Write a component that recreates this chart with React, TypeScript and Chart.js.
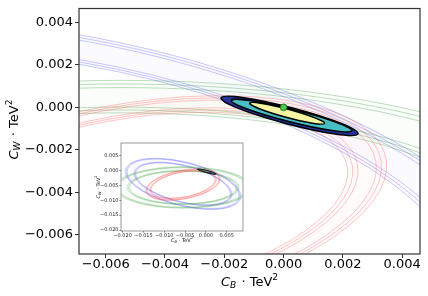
import React, { useEffect, useRef } from 'react';
import { Chart, registerables } from 'chart.js';

Chart.register(...registerables);

// ---------- data ----------
const mainXRange = [-0.0069, 0.0046];
const mainYRange = [-0.0069, 0.00465];
const mainXTicks = [-0.006, -0.004, -0.002, 0.0, 0.002, 0.004];
const mainYTicks = [-0.006, -0.004, -0.002, 0.0, 0.002, 0.004];

const insetXRange = [-0.0204, 0.0089];
const insetYRange = [-0.0203, 0.0092];
const insetXTicks = [-0.02, -0.015, -0.01, -0.005, 0.0, 0.005];
const insetYTicks = [-0.02, -0.015, -0.01, -0.005, 0.0, 0.005];

// constraint ellipses (blue, green, red): centre, semi-axes, rotation (deg)
const bandCenterX = [-0.0055, -0.0055, -0.0055];
const bandCenterY = [-0.0045, -0.0057, -0.00475];
const bandSemiMajor = [0.0145, 0.016, 0.0091];
const bandSemiMinor = [0.007, 0.0068, 0.00466];
const bandAngleDeg = [-22, 0, 17.1];
const bandOuterScales = [
  [0.983, 1.0, 1.017],
  [0.975, 1.0, 1.025],
  [0.98, 1.0, 1.02],
];
const bandInnerScales = [
  [0.83, 0.845, 0.86],
  [0.8, 0.82, 0.84],
  [0.87, 0.89, 0.91],
];

// best-fit confidence contours (outer to inner)
const contourCenterX = [0.0002, 0.00027, 0.00012];
const contourCenterY = [-0.0004, -0.00039, -0.00028];
const contourSemiMajor = [0.00246, 0.00215, 0.00135];
const contourSemiMinor = [0.00038, 0.00029, 0.00019];
const contourAngleDeg = [-20.3, -19.5, -20.8];

const bestFitX = [0.0];
const bestFitY = [0.0];

// ---------- styles ----------
const FONT = "'DejaVu Sans', sans-serif";
const BAND_LINE = ['rgba(70,70,255,0.30)', 'rgba(40,150,40,0.30)', 'rgba(255,70,70,0.30)'];
const BAND_FILL = ['rgba(70,70,255,0.022)', 'rgba(40,150,40,0.022)', 'rgba(255,70,70,0.022)'];
const CONTOUR_FILL = ['#23339a', '#46bec4', '#f3f5a2'];

function fmtTick(v: number): string {
  if (Math.abs(v) < 1e-12) return '0.000';
  return (v < 0 ? '\u2212' : '') + Math.abs(v).toFixed(3);
}

function ellipsePath(ctx: CanvasRenderingContext2D, xs: any, ys: any, cx: number, cy: number,
  a: number, b: number, angDeg: number, k: number) {
  const th = (angDeg * Math.PI) / 180;
  const ux = a * k * Math.cos(th), uy = a * k * Math.sin(th);
  const vx = -b * k * Math.sin(th), vy = b * k * Math.cos(th);
  const px0 = xs.getPixelForValue(cx), py0 = ys.getPixelForValue(cy);
  const pux = xs.getPixelForValue(cx + ux) - px0, puy = ys.getPixelForValue(cy + uy) - py0;
  const pvx = xs.getPixelForValue(cx + vx) - px0, pvy = ys.getPixelForValue(cy + vy) - py0;
  ctx.save();
  ctx.transform(pux, puy, pvx, pvy, px0, py0);
  ctx.moveTo(1, 0);
  ctx.arc(0, 0, 1, 0, Math.PI * 2);
  ctx.restore();
}

function makeEllipsePlugin(lineWidth: number, contourLine: number) {
  return {
    id: 'ellipses',
    beforeDatasetsDraw(chart: any) {
      const { ctx, chartArea: area } = chart;
      const xs = chart.scales.x, ys = chart.scales.y;
      ctx.save();
      ctx.beginPath();
      ctx.rect(area.left, area.top, area.right - area.left, area.bottom - area.top);
      ctx.clip();
      for (let i = 0; i < bandCenterX.length; i++) {
        const outer = bandOuterScales[i], inner = bandInnerScales[i];
        ctx.beginPath();
        ellipsePath(ctx, xs, ys, bandCenterX[i], bandCenterY[i], bandSemiMajor[i], bandSemiMinor[i], bandAngleDeg[i], outer[outer.length - 1]);
        ellipsePath(ctx, xs, ys, bandCenterX[i], bandCenterY[i], bandSemiMajor[i], bandSemiMinor[i], bandAngleDeg[i], inner[0]);
        ctx.fillStyle = BAND_FILL[i];
        ctx.fill('evenodd');
        ctx.strokeStyle = BAND_LINE[i];
        ctx.lineWidth = lineWidth;
        for (const k of [...outer, ...inner]) {
          ctx.beginPath();
          ellipsePath(ctx, xs, ys, bandCenterX[i], bandCenterY[i], bandSemiMajor[i], bandSemiMinor[i], bandAngleDeg[i], k);
          ctx.stroke();
        }
      }
      for (let j = 0; j < contourCenterX.length; j++) {
        ctx.beginPath();
        ellipsePath(ctx, xs, ys, contourCenterX[j], contourCenterY[j], contourSemiMajor[j], contourSemiMinor[j], contourAngleDeg[j], 1);
        ctx.fillStyle = CONTOUR_FILL[j];
        ctx.fill();
        ctx.strokeStyle = '#000';
        ctx.lineWidth = contourLine;
        ctx.stroke();
      }
      ctx.restore();
    },
  };
}

function makeFramePlugin(color: string, width: number) {
  return {
    id: 'frame',
    afterDraw(chart: any) {
      const { ctx, chartArea: a } = chart;
      ctx.save();
      ctx.strokeStyle = color;
      ctx.lineWidth = width;
      ctx.strokeRect(a.left, a.top, a.right - a.left, a.bottom - a.top);
      ctx.restore();
    },
  };
}

function drawAxisTitle(ctx: CanvasRenderingContext2D, tx: number, ty: number, size: number, sub: string, rotate: boolean) {
  const parts = [
    { t: 'C', f: `italic ${size}px ${FONT}`, dy: 0 },
    { t: sub, f: `italic ${size * 0.7}px ${FONT}`, dy: size * 0.2 },
    { t: ' \u00b7 TeV', f: `${size}px ${FONT}`, dy: 0 },
    { t: '2', f: `${size * 0.7}px ${FONT}`, dy: -size * 0.42 },
  ];
  ctx.save();
  ctx.translate(tx, ty);
  if (rotate) ctx.rotate(-Math.PI / 2);
  ctx.fillStyle = '#000';
  ctx.textBaseline = 'alphabetic';
  ctx.textAlign = 'left';
  const widths = parts.map((p) => { ctx.font = p.f; return ctx.measureText(p.t).width; });
  const total = widths.reduce((s, w) => s + w, 0) + size * 0.08;
  let x = -total / 2;
  parts.forEach((p, i) => {
    ctx.font = p.f;
    ctx.fillText(p.t, x, p.dy);
    x += widths[i] + (i === 1 ? size * 0.08 : 0);
  });
  ctx.restore();
}

function makeTitlePlugin(size: number, xTitle: [number, number], yTitle: [number, number]) {
  return {
    id: 'mathTitles',
    afterDraw(chart: any) {
      const ctx = chart.ctx;
      drawAxisTitle(ctx, xTitle[0], xTitle[1], size, 'B', false);
      drawAxisTitle(ctx, yTitle[0], yTitle[1], size, 'W', true);
    },
  };
}

const whiteBg = {
  id: 'whiteBg',
  beforeDraw(chart: any) {
    const ctx = chart.ctx;
    ctx.save();
    ctx.fillStyle = '#fff';
    ctx.fillRect(0, 0, chart.width, chart.height);
    ctx.restore();
  },
};

function axis(range: number[], ticks: number[], fontSize: number, tickLen: number, pad: number, fitSize: number, horizontal: boolean, tickColor: string, labelColor: string) {
  return {
    type: 'linear',
    min: range[0],
    max: range[1],
    afterBuildTicks: (s: any) => { s.ticks = ticks.map((value) => ({ value })); },
    afterFit: (s: any) => { if (horizontal) s.height = fitSize; else s.width = fitSize; },
    ticks: {
      autoSkip: false,
      maxRotation: 0,
      minRotation: 0,
      padding: pad,
      color: labelColor,
      font: { family: FONT, size: fontSize, lineHeight: 1 },
      callback: (v: any) => fmtTick(Number(v)),
    },
    grid: { drawOnChartArea: false, drawTicks: true, tickLength: tickLen, color: tickColor, lineWidth: 1 },
    border: { display: false },
  };
}

export default function App() {
  const mainRef = useRef<HTMLCanvasElement>(null);
  const insetRef = useRef<HTMLCanvasElement>(null);

  useEffect(() => {
    const markerData = bestFitX.map((x, i) => ({ x, y: bestFitY[i] }));
    const main = new Chart(mainRef.current as HTMLCanvasElement, {
      type: 'scatter',
      data: {
        datasets: [
          { data: markerData, pointStyle: 'circle', pointRadius: 3.4, backgroundColor: '#52c452', borderColor: '#1a5e1a', borderWidth: 0.8 },
          { data: markerData, pointStyle: 'crossRot', pointRadius: 3.4, backgroundColor: '#0d4d0d', borderColor: '#0d4d0d', borderWidth: 1.2 },
        ],
      },
      options: {
        responsive: false,
        animation: false,
        events: [],
        layout: { padding: { left: 0, right: 8, top: 5, bottom: 0 } },
        plugins: { legend: { display: false }, tooltip: { enabled: false } },
        scales: {
          x: axis(mainXRange, mainXTicks, 13, 4, 0, 42, true, '#333', '#000'),
          y: axis(mainYRange, mainYTicks, 13, 4, 2, 79, false, '#333', '#000'),
        },
      } as any,
      plugins: [makeEllipsePlugin(1, 1.5), makeFramePlugin('#333', 1.2), makeTitlePlugin(13, [249.5, 285.5], [17.5, 129.5])],
    } as any);

    const inset = new Chart(insetRef.current as HTMLCanvasElement, {
      type: 'scatter',
      data: { datasets: [] },
      options: {
        responsive: false,
        animation: false,
        events: [],
        layout: { padding: { left: 0, right: 7, top: 5, bottom: 0 } },
        plugins: { legend: { display: false }, tooltip: { enabled: false } },
        scales: {
          x: axis(insetXRange, insetXTicks, 5, 1.5, 0.5, 19, true, '#666', '#222'),
          y: axis(insetYRange, insetYTicks, 5, 1.5, 1, 36, false, '#666', '#222'),
        },
      } as any,
      plugins: [whiteBg, makeEllipsePlugin(0.8, 0.6), makeFramePlugin('#999', 1), makeTitlePlugin(5, [97, 103.5], [14.5, 49])],
    } as any);

    return () => {
      main.destroy();
      inset.destroy();
    };
  }, []);

  return (
    <div style={{ position: 'fixed', left: 0, top: 0, width: 428, height: 296, background: '#fff' }}>
      <canvas ref={mainRef} width={428} height={296} style={{ position: 'absolute', left: 0, top: 0, width: 428, height: 296 }} />
      <canvas ref={insetRef} width={165} height={112} style={{ position: 'absolute', left: 85, top: 138, width: 165, height: 112 }} />
    </div>
  );
}
